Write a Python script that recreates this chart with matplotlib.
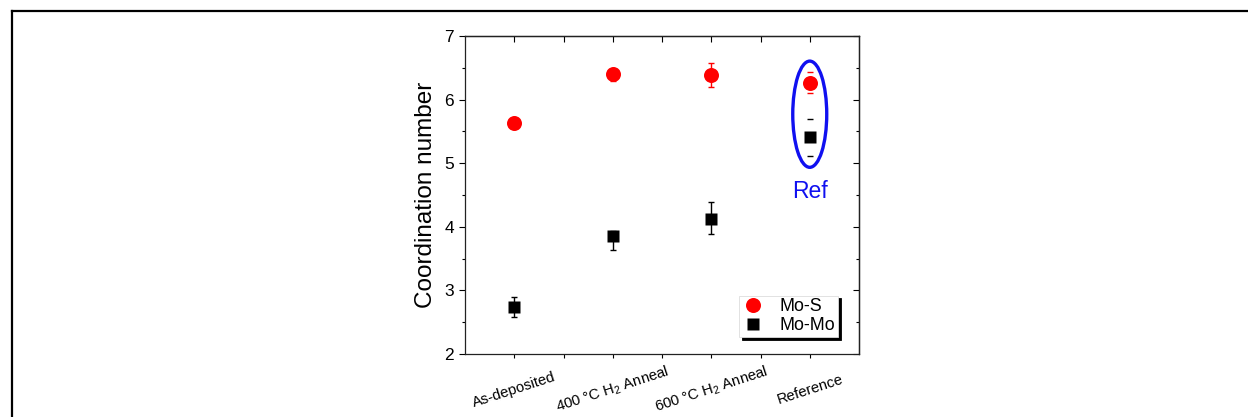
import numpy as np
import matplotlib.pyplot as plt
from matplotlib.patches import Ellipse
from matplotlib.lines import Line2D

plt.rcParams['font.family'] = ['Liberation Sans', 'DejaVu Sans']
plt.rcParams['mathtext.fontset'] = 'custom'
plt.rcParams['mathtext.rm'] = 'Liberation Sans'
plt.rcParams['mathtext.default'] = 'regular'

# data
categories = ['As-deposited', '400 °C H$_2$ Anneal', '600 °C H$_2$ Anneal', 'Reference']
mo_s = [5.63, 6.40, 6.39, 6.26]
mo_s_lo = [0.04, 0.10, 0.19, 0.16]
mo_s_hi = [0.04, 0.05, 0.18, 0.18]
mo_mo = [2.74, 3.85, 4.13, 5.41]
mo_mo_lo = [0.16, 0.22, 0.25, 0.30]
mo_mo_hi = [0.16, 0.08, 0.26, 0.29]
bar_visible = [1, 1, 1, 0]  # reference point only shows the caps

fig = plt.figure(figsize=(12.48, 4.17), dpi=100)
ax = fig.add_axes([0.3726, 0.1511, 0.3157, 0.7626])

x = np.arange(len(categories))

for vals, lo, hi, col in [(mo_s, mo_s_lo, mo_s_hi, 'red'), (mo_mo, mo_mo_lo, mo_mo_hi, 'black')]:
    eb = ax.errorbar(x, vals, yerr=[lo, hi], fmt='none', ecolor=col, elinewidth=1.0,
                     capsize=2.5, capthick=1.0, zorder=2)
    eb[2][0].set_linewidths([1.0 * v for v in bar_visible])

ax.plot(x, mo_s, 'o', color='red', ms=10.8, mec='none', label='Mo-S', zorder=3)
ax.plot(x, mo_mo, 's', color='black', ms=9.2, mec='none', label='Mo-Mo', zorder=3)

# blue ellipse around the reference values
ax.add_patch(Ellipse((x[-1], 5.77), 0.345, 1.67, fill=False, edgecolor='#1010f0', lw=2.4, zorder=4))
ax.text(x[-1], 4.56, 'Ref', color='#1010f0', fontsize=16.5, ha='center', va='center')

ax.set_xlim(-0.5, len(categories) - 0.5)
ax.set_ylim(2, 7)
ax.set_xticks(x)
ax.set_xticks(x[:-1] + 0.5, minor=True)
ax.set_xticklabels(categories, fontsize=10.7, rotation=18, ha='center', va='center',
                   rotation_mode='anchor')
ax.set_yticks(np.arange(2, 8))
ax.set_yticks(np.arange(2.5, 7, 1), minor=True)
ax.tick_params(axis='y', which='major', direction='out', length=4.3, width=0.8, labelsize=12.5)
ax.tick_params(axis='y', which='minor', direction='out', length=2.2, width=0.8)
ax.tick_params(axis='x', which='both', direction='out', length=2.6, width=0.8, pad=23)
ax.set_ylabel('Coordination number', fontsize=17.5, labelpad=5)

for s in ax.spines.values():
    s.set_linewidth(0.9)
    s.set_color('#222222')

# top and right ticks point inward
secx = ax.secondary_xaxis('top')
secx.set_xticks(x)
secx.set_xticks(x[:-1] + 0.5, minor=True)
secx.tick_params(which='both', direction='in', length=4.3, width=0.8, labeltop=False)
secx.spines['top'].set_linewidth(0.9)
secy = ax.secondary_yaxis('right')
secy.set_yticks(np.arange(2, 8))
secy.set_yticks(np.arange(2.5, 7, 1), minor=True)
secy.tick_params(which='major', direction='in', length=4.3, width=0.8, labelright=False)
secy.tick_params(which='minor', direction='in', length=2.0, width=0.8)
secy.spines['right'].set_linewidth(0.9)

leg = ax.legend(loc='lower right', bbox_to_anchor=(0.947, 0.053), borderaxespad=0,
                fontsize=12.9, frameon=True, fancybox=False, edgecolor='#dddddd',
                framealpha=1, shadow={'color': 'black', 'alpha': 1},
                borderpad=0.15, labelspacing=0.12, handlelength=1.2, handletextpad=0.9)
leg.get_frame().set_linewidth(0.6)

# page frame lines (top and left only)
fig.add_artist(Line2D([0.0096, 1.0], [0.9736, 0.9736], color='black', lw=1.6, transform=fig.transFigure))
fig.add_artist(Line2D([0.0096, 0.0096], [0.0, 0.9736], color='black', lw=1.6, transform=fig.transFigure))

fig.savefig('out.png', dpi=100)
